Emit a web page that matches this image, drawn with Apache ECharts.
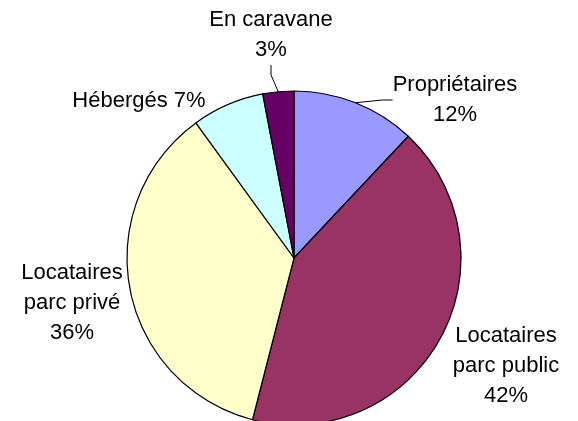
<!DOCTYPE html>
<html>
<head>
<meta charset="utf-8">
<script src="https://cdn.jsdelivr.net/npm/echarts@6/dist/echarts.min.js"></script>
<style>
  html, body { margin: 0; padding: 0; background: #fff; }
  #chart { width: 578px; height: 421px; }
</style>
</head>
<body>
<div id="chart"></div>
<script>
// données (en %)
var categories = ['Propriétaires', 'Locataires\nparc public', 'Locataires\nparc privé', 'Hébergés', 'En caravane'];
var values = [12, 42, 36, 7, 3];
var colors = ['#9999FF', '#993366', '#FFFFCC', '#CCFFFF', '#660066'];
var separators = ['\n', '\n', '\n', ' ', '\n'];
var withLine = [true, false, false, false, true];

// position des étiquettes (centre du texte)
var labelPos = [[455, 100], [506, 366], [72, 303], [139, 101], [271, 35]];

var myChart = echarts.init(document.getElementById('chart'));

var pieData = values.map(function (v, i) {
  return {
    name: categories[i],
    value: v,
    itemStyle: { color: colors[i] },
    labelLine: { show: withLine[i] }
  };
});

var option = {
  animation: false,
  series: [{
    type: 'pie',
    center: [294, 258],
    radius: 167,
    startAngle: 90,
    clockwise: true,
    data: pieData,
    itemStyle: { borderColor: '#000', borderWidth: 1.2 },
    emphasis: { disabled: true },
    label: {
      show: true,
      position: 'outside',
      overflow: 'none',
      fontFamily: 'Arial, "Liberation Sans", sans-serif',
      fontSize: 22,
      lineHeight: 30,
      color: '#000',
      align: 'center',
      formatter: function (p) {
        return p.name + separators[p.dataIndex] + p.value + '%';
      }
    },
    labelLine: {
      show: true,
      length: 8,
      length2: 10,
      smooth: false,
      lineStyle: { color: '#000', width: 1 }
    },
    labelLayout: function (p) {
      var pos = labelPos[p.dataIndex];
      return { x: pos[0], y: pos[1], align: 'center', verticalAlign: 'middle' };
    }
  }]
};

myChart.setOption(option);
</script>
</body>
</html>
